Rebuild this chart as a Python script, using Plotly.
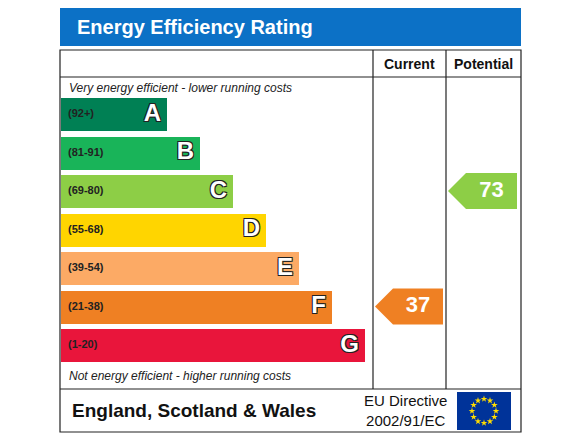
import numpy as np
import plotly.graph_objects as go

# ---- data ----
bands = ["A", "B", "C", "D", "E", "F", "G"]
ranges = ["(92+)", "(81-91)", "(69-80)", "(55-68)", "(39-54)", "(21-38)", "(1-20)"]
lower = [92, 81, 69, 55, 39, 21, 1]
colors = ["#008054", "#19b459", "#8dce46", "#ffd500", "#fcaa65", "#ef8023", "#e9153b"]
current = 37
potential = 73

# ---- geometry (pixel-like axis units) ----
X0 = 61
row_top = [98 + 38.5 * i for i in range(7)]
row_h = 33
bar_len = [106 + 33 * i for i in range(7)]
centers = [t + row_h / 2 for t in row_top]


def band_of(v):
    for i, lo in enumerate(lower):
        if v >= lo:
            return i
    return 6


fig = go.Figure()
fig.add_trace(go.Bar(orientation="h", y=centers, x=bar_len, base=X0, width=row_h,
                     marker=dict(color=colors, line=dict(width=0)), hoverinfo="skip"))

# range labels and letters
fig.add_trace(go.Scatter(x=[X0 + 7] * 7, y=centers, mode="text", text=ranges,
                         textposition="middle right",
                         textfont=dict(family="Arial", size=11, color="#222222", weight="bold")))
letter_shadow = "1px 1px 0 #222, -1px -1px 0 #222, 1px -1px 0 #222, -1px 1px 0 #222"
fig.add_trace(go.Scatter(x=[X0 + L - 6 for L in bar_len], y=centers, mode="text", text=bands,
                         textposition="middle left",
                         textfont=dict(family="Arial Black, Arial", size=24, color="white",
                                       weight="bold", shadow=letter_shadow)))


def arrow(v, x_left, x_right):
    i = band_of(v)
    t = row_top[i] - 2
    b = t + 36
    m = (t + b) / 2
    tip = 18
    xs = [x_left, x_left + tip, x_right, x_right, x_left + tip, x_left]
    ys = [m, t, t, b, b, m]
    fig.add_trace(go.Scatter(x=xs, y=ys, fill="toself", fillcolor=colors[i], mode="lines",
                             line=dict(width=0), hoverinfo="skip"))
    fig.add_trace(go.Scatter(x=[(x_left + tip + x_right) / 2], y=[m], mode="text", text=[str(v)],
                             textfont=dict(family="Arial", size=22, color="white", weight="bold")))


arrow(current, 375, 443)
arrow(potential, 448, 517)

shapes = [
    dict(type="rect", x0=60, x1=521, y0=8, y1=46, fillcolor="#0c71c6", line=dict(width=0)),
    dict(type="rect", x0=60, x1=521, y0=50, y1=432, line=dict(color="#222", width=1.2)),
    dict(type="line", x0=373, x1=373, y0=50, y1=389, line=dict(color="#222", width=1.2)),
    dict(type="line", x0=446, x1=446, y0=50, y1=389, line=dict(color="#222", width=1.2)),
    dict(type="line", x0=60, x1=521, y0=77, y1=77, line=dict(color="#222", width=1.2)),
    dict(type="line", x0=60, x1=521, y0=389, y1=389, line=dict(color="#222", width=1.2)),
    dict(type="rect", x0=457, x1=511, y0=392, y1=430, fillcolor="#003399",
         line=dict(width=0), layer="below"),
]

ann = [
    dict(x=75, y=27, text="Energy Efficiency Rating", xanchor="left",
         font=dict(family="Arial", size=20, color="white", weight="bold")),
    dict(x=409, y=64, text="Current", font=dict(family="Arial", size=14, color="#111", weight="bold")),
    dict(x=483, y=64, text="Potential", font=dict(family="Arial", size=14, color="#111", weight="bold")),
    dict(x=67, y=88, text="<i>Very energy efficient - lower running costs</i>", xanchor="left",
         font=dict(family="Arial", size=12, color="#222")),
    dict(x=67, y=376, text="<i>Not energy efficient - higher running costs</i>", xanchor="left",
         font=dict(family="Arial", size=12, color="#222")),
    dict(x=70, y=410, text="England, Scotland & Wales", xanchor="left",
         font=dict(family="Arial", size=19, color="#111", weight="bold")),
    dict(x=405, y=410, text="EU Directive<br>2002/91/EC",
         font=dict(family="Arial", size=15, color="#111")),
]
for a in ann:
    a["showarrow"] = False
    a["yanchor"] = "middle"

# EU stars
ang = np.linspace(0, 2 * np.pi, 13)[:-1]
fig.add_trace(go.Scatter(x=484 + 12 * np.cos(ang), y=411 + 12 * np.sin(ang), mode="markers",
                         marker=dict(symbol="star", size=5, color="#ffdd00"), hoverinfo="skip"))

# page body has an 8px margin, so shift the axis window to compensate
fig.update_layout(width=583, height=437, margin=dict(l=0, r=0, t=0, b=0),
                  plot_bgcolor="white", paper_bgcolor="white", showlegend=False,
                  shapes=shapes, annotations=ann, bargap=0,
                  xaxis=dict(range=[8, 591], visible=False, fixedrange=True),
                  yaxis=dict(range=[445, 8], visible=False, fixedrange=True))
fig.write_html("out.html")
